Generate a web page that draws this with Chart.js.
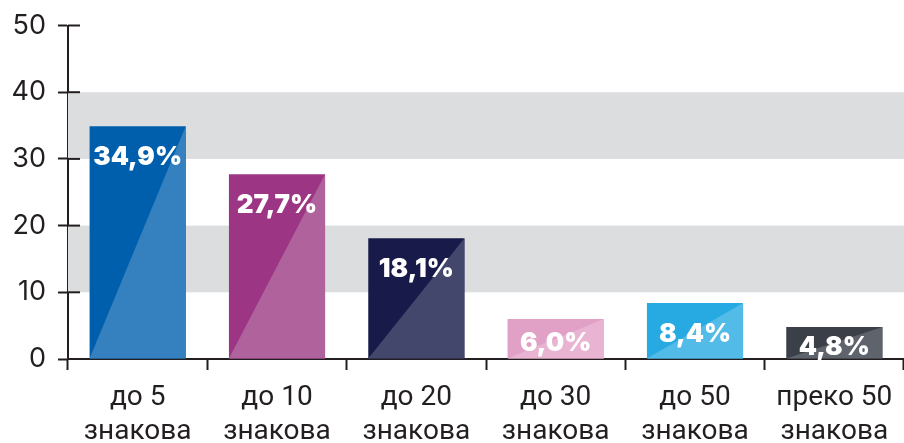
<!DOCTYPE html>
<html>
<head>
<meta charset="utf-8">
<script src="https://cdn.jsdelivr.net/npm/chart.js@4"></script>
<style>
  html, body { margin: 0; padding: 0; background: #fff; }
  #wrap { width: 904px; height: 443px; }
</style>
</head>
<body>
<div id="wrap"><canvas id="shareChart" width="904" height="443"></canvas></div>
<script>
const categories = [
    ['до 5', 'знакова'],
    ['до 10', 'знакова'],
    ['до 20', 'знакова'],
    ['до 30', 'знакова'],
    ['до 50', 'знакова'],
    ['преко 50', 'знакова']
];
const shares = [34.9, 27.7, 18.1, 6.0, 8.4, 4.8];
const yTicks = [0, 10, 20, 30, 40, 50];
const bands = [[10, 20], [30, 40]];
const darkColors = ['#005fad', '#9c3684', '#181a4a', '#e1a0c5', '#27aae1', '#3a3f48'];
const lightColors = ['#3581c0', '#b0629c', '#44476c', '#e8b4d2', '#52bbe7', '#5f636b'];

const inkColor = '#231f20';

const chartDecor = {
    id: 'chartDecor',
    beforeDatasetsDraw(chart) {
        const { ctx, chartArea, scales } = chart;
        ctx.save();
        ctx.fillStyle = '#dcdddf';
        bands.forEach(([lo, hi]) => {
            const yTop = scales.y.getPixelForValue(hi);
            const yBot = scales.y.getPixelForValue(lo);
            ctx.fillRect(chartArea.left, yTop, chartArea.right - chartArea.left, yBot - yTop);
        });
        ctx.restore();
    },
    afterDatasetsDraw(chart) {
        const { ctx, scales } = chart;
        const meta = chart.getDatasetMeta(0);
        ctx.save();
        meta.data.forEach((bar, i) => {
            const left = bar.x - bar.width / 2;
            const right = bar.x + bar.width / 2;
            ctx.fillStyle = lightColors[i];
            ctx.beginPath();
            ctx.moveTo(left, bar.base);
            ctx.lineTo(right, bar.y);
            ctx.lineTo(right, bar.base);
            ctx.closePath();
            ctx.fill();
        });
        // value labels
        ctx.fillStyle = '#ffffff';
        ctx.font = '900 26px Inter';
        ctx.textAlign = 'center';
        ctx.textBaseline = 'middle';
        meta.data.forEach((bar, i) => {
            const text = shares[i].toFixed(1).replace('.', ',') + '%';
            const y = Math.min(bar.y + 31, (bar.y + bar.base) / 2 + 4);
            ctx.fillText(text, bar.x, y);
        });
        // inner part of the y tick marks, crossing the axis
        const axisX = scales.y.right;
        ctx.strokeStyle = inkColor;
        ctx.lineWidth = 2;
        yTicks.forEach(v => {
            const y = scales.y.getPixelForValue(v);
            ctx.beginPath();
            ctx.moveTo(axisX, y);
            ctx.lineTo(axisX + 12, y);
            ctx.stroke();
        });
        ctx.restore();
    }
};

const ctx = document.getElementById('shareChart').getContext('2d');
new Chart(ctx, {
    type: 'bar',
    data: {
        labels: categories,
        datasets: [{
            data: shares,
            backgroundColor: darkColors,
            borderWidth: 0,
            categoryPercentage: 1,
            barPercentage: 0.69
        }]
    },
    options: {
        responsive: false,
        animation: false,
        layout: { padding: { top: 25, right: 0, left: 0, bottom: 0 } },
        plugins: {
            legend: { display: false },
            tooltip: { enabled: false }
        },
        scales: {
            x: {
                afterFit: (scale) => { scale.height = 84; },
                grid: {
                    offset: true,
                    drawOnChartArea: false,
                    tickLength: 11,
                    tickWidth: 2,
                    color: inkColor
                },
                border: { display: true, color: inkColor, width: 2 },
                ticks: {
                    color: inkColor,
                    padding: 11,
                    font: { family: 'Roboto', size: 28, lineHeight: 1.22 }
                }
            },
            y: {
                min: 0,
                max: 50,
                afterFit: (scale) => { scale.width = 68; },
                afterBuildTicks: (scale) => { scale.ticks = yTicks.map(v => ({ value: v })); },
                grid: {
                    drawOnChartArea: false,
                    tickLength: 10,
                    tickWidth: 2,
                    color: inkColor
                },
                border: { display: true, color: inkColor, width: 2 },
                ticks: {
                    color: inkColor,
                    padding: 12,
                    font: { family: 'Inter', size: 27, lineHeight: 1 }
                }
            }
        }
    },
    plugins: [chartDecor]
});
</script>
</body>
</html>
